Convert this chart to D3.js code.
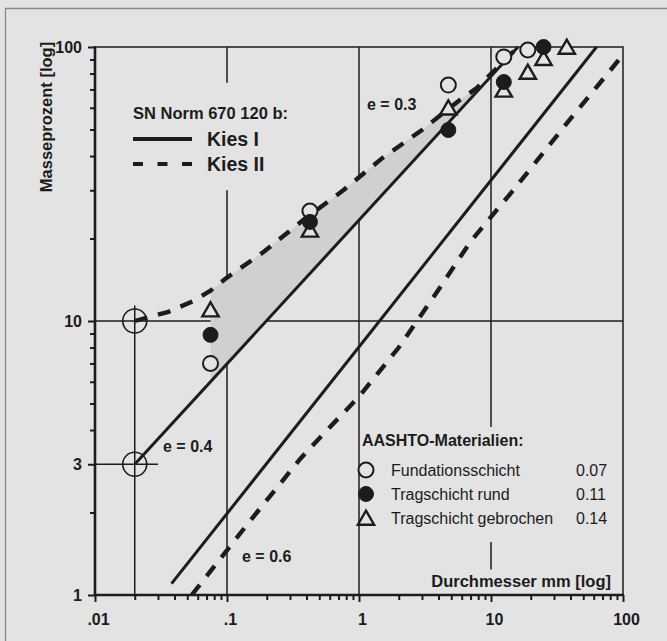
<!DOCTYPE html>
<html>
<head>
<meta charset="utf-8">
<script src="https://cdn.jsdelivr.net/npm/d3@7"></script>
<style>
  body { margin: 0; background: #e3e3e3; }
  svg { display: block; font-family: "Liberation Sans", Arial, sans-serif; }
</style>
</head>
<body>
<svg id="chart" width="667" height="641"></svg>
<script>
// Axis ticks
const xMajor = [0.01, 0.1, 1, 10, 100];
const xMajorLabels = [".01", ".1", "1", "10", "100"];
const xMinor = [0.02,0.03,0.04,0.05,0.06,0.07,0.08,0.09, 0.2,0.3,0.4,0.5,0.6,0.7,0.8,0.9,
                2,3,4,5,6,7,8,9, 20,30,40,50,60,70,80,90];
const yMajor = [1, 3, 10, 100];
const yMinor = [2,4,5,6,7,8,9, 20,30,40,50,60,70,80,90];

// SN Norm 670 120 b grading limits (d in mm, p in %)
const kiesIUpperD = [0.02, 16];
const kiesIUpperP = [3, 100];
const kiesILowerD = [0.038, 63];
const kiesILowerP = [1.1, 100];
const kiesIIUpperD = [0.02, 0.036, 0.055, 0.075, 0.10, 0.19, 0.38, 0.76, 1.5, 3.0, 5.8, 7.8, 16];
const kiesIIUpperP = [10, 10.8, 11.8, 12.9, 14.4, 17.9, 23.4, 30, 39.3, 49.8, 64.1, 70.8, 100];
const kiesIILowerD = [0.054, 0.068, 0.149, 0.357, 0.464, 1.0, 2.0, 4.0, 7.0, 14.4, 41.1, 93];
const kiesIILowerP = [1, 1.15, 1.86, 3.13, 3.59, 5.3, 8.0, 13.0, 19.5, 29.6, 55.6, 89.7];

// AASHTO materials
const sieves = [0.075, 0.425, 4.75, 12.5, 19, 25, 37.5];
const fundation = [7, 25.2, 72.6, 92, 97.5, null, null];
const tragRund = [8.9, 23, 49.8, 74.5, null, 100, null];
const tragGebrochen = [11, 21.5, 60, 69.7, 81, 91, 100];
const materialNames = ["Fundationsschicht", "Tragschicht rund", "Tragschicht gebrochen"];
const materialValues = ["0.07", "0.11", "0.14"];

const ink = "#1c1c1c", bg = "#e3e3e3";
const svg = d3.select("#chart");

const x = d3.scaleLog().domain([0.01, 100]).range([95, 623]);
const y = d3.scaleLog().domain([1, 100]).range([595, 47]);

// outer frame
svg.append("path").attr("d", "M5.5,641 V8.5 H667")
  .attr("fill", "none").attr("stroke", "#8a8a8a").attr("stroke-width", 1.3);

// grid segments (gaps left for labels)
const grid = [
  {x1: 0.02, x2: 0.02, y1: 1, y2: 11.4},
  {x1: 0.01, x2: 0.03, y1: 3, y2: 3},
  {x1: 0.01, x2: 100, y1: 10, y2: 10},
  {x1: 0.1, x2: 0.1, y1: 1, y2: 30},
  {x1: 0.1, x2: 0.1, y1: 74, y2: 100},
  {x1: 1, x2: 1, y1: 1, y2: 100},
  {x1: 10, x2: 10, y1: 1.24, y2: 1.56},
  {x1: 10, x2: 10, y1: 4.1, y2: 100}
];
svg.append("g").selectAll("line").data(grid).join("line")
  .attr("x1", d => x(d.x1)).attr("x2", d => x(d.x2))
  .attr("y1", d => y(d.y1)).attr("y2", d => y(d.y2))
  .attr("stroke", ink).attr("stroke-width", 1.5);

// shaded band between Kies II upper and Kies I upper
const upperII = kiesIIUpperD.map((d, i) => [d, kiesIIUpperP[i]]);
const kiesIAt = d => Math.exp(Math.log(kiesIUpperP[0]) +
  (Math.log(d) - Math.log(kiesIUpperD[0])) * (Math.log(kiesIUpperP[1] / kiesIUpperP[0]) / Math.log(kiesIUpperD[1] / kiesIUpperD[0])));
const band = upperII.filter(p => p[0] >= 0.075 && p[0] <= 7.8);
svg.append("path").datum(band)
  .attr("d", d3.area().x(d => x(d[0])).y0(d => y(kiesIAt(d[0]))).y1(d => y(d[1])))
  .attr("fill", "#d0d0d0");

// frame top/right
svg.append("path").attr("d", `M${x(0.01)},${y(100)} H${x(100)} V${y(1)}`)
  .attr("fill", "none").attr("stroke", ink).attr("stroke-width", 1.5);

// axes
const yAxisMinor = d3.axisLeft(y).tickValues(yMinor).tickSize(5).tickFormat("");
const yAxisMajor = d3.axisLeft(y).tickValues(yMajor).tickSize(7).tickPadding(6).tickFormat(d => d);
const xAxisMinor = d3.axisBottom(x).tickValues(xMinor).tickSize(5).tickFormat("");
const xAxisMajor = d3.axisBottom(x).tickValues(xMajor).tickSize(7).tickPadding(12)
  .tickFormat((d, i) => xMajorLabels[i]);

[yAxisMinor, yAxisMajor].forEach(a => {
  const g = svg.append("g").attr("transform", `translate(${x(0.01)},0)`).call(a);
  g.select(".domain").remove();
  g.selectAll(".tick line").attr("stroke", ink).attr("stroke-width", 2);
  g.selectAll("text").attr("fill", ink).style("font-size", "16px").style("font-weight", "bold");
});
[xAxisMinor, xAxisMajor].forEach(a => {
  const g = svg.append("g").attr("transform", `translate(0,${y(1)})`).call(a);
  g.select(".domain").remove();
  g.selectAll(".tick line").attr("stroke", ink).attr("stroke-width", 2);
  g.selectAll("text").attr("fill", ink).attr("dx", 3).style("font-size", "16px").style("font-weight", "bold");
});
svg.append("path").attr("d", `M${x(0.01)},${y(100) - 1} V${y(1)} H${x(100) + 1}`)
  .attr("fill", "none").attr("stroke", ink).attr("stroke-width", 2.6);

// axis titles
svg.append("text").attr("transform", "translate(52,117) rotate(-90)")
  .attr("text-anchor", "middle").attr("fill", ink)
  .style("font-size", "16.5px").style("font-weight", "bold").text("Masseprozent [log]");
svg.append("text").attr("x", 611).attr("y", 587).attr("text-anchor", "end").attr("fill", ink)
  .style("font-size", "16.5px").style("font-weight", "bold").text("Durchmesser mm [log]");

// grading lines
const line = d3.line().x(d => x(d[0])).y(d => y(d[1]));
const pairs = (ds, ps) => ds.map((d, i) => [d, ps[i]]);
const curves = [
  {pts: pairs(kiesIUpperD, kiesIUpperP), dash: null, w: 3},
  {pts: pairs(kiesILowerD, kiesILowerP), dash: null, w: 3},
  {pts: pairs(kiesIIUpperD, kiesIIUpperP), dash: "13,11", w: 4.4},
  {pts: pairs(kiesIILowerD, kiesIILowerP), dash: "13,11", w: 4.4}
];
svg.append("g").selectAll("path").data(curves).join("path")
  .attr("d", d => line(d.pts)).attr("fill", "none")
  .attr("stroke", ink).attr("stroke-width", d => d.w)
  .attr("stroke-dasharray", d => d.dash);

// anchor circles
svg.append("g").selectAll("circle").data([10, 3]).join("circle")
  .attr("cx", x(0.02)).attr("cy", d => y(d)).attr("r", 12)
  .attr("fill", "none").attr("stroke", ink).attr("stroke-width", 1.6);

// e labels
const eLabels = [
  {t: "e = 0.3", px: 367, py: 110},
  {t: "e = 0.4", px: 163, py: 452},
  {t: "e = 0.6", px: 242, py: 562}
];
svg.append("g").selectAll("text").data(eLabels).join("text")
  .attr("x", d => d.px).attr("y", d => d.py).attr("fill", ink)
  .style("font-size", "16px").style("font-weight", "bold").text(d => d.t);

// markers
const tri = d3.symbol().type(d3.symbolTriangle).size(115);
function marker(g, kind) {
  if (kind === 0) g.append("circle").attr("r", 7.5).attr("fill", bg).attr("stroke", ink).attr("stroke-width", 2);
  else if (kind === 1) g.append("circle").attr("r", 7.5).attr("fill", ink).attr("stroke", ink).attr("stroke-width", 1);
  else g.append("path").attr("d", tri).attr("transform", "translate(0,2)")
    .attr("fill", bg).attr("stroke", ink).attr("stroke-width", 2.4);
}
const series = [fundation, tragRund, tragGebrochen];
[2, 0, 1].forEach(k => {
  sieves.forEach((d, i) => {
    const v = series[k][i];
    if (v == null) return;
    const g = svg.append("g").attr("transform", `translate(${x(d)},${y(v)})`);
    marker(g, k);
  });
});

// legend: SN Norm
svg.append("text").attr("x", 133).attr("y", 119).attr("fill", ink)
  .style("font-size", "16.5px").style("font-weight", "bold").text("SN Norm 670 120 b:");
svg.append("line").attr("x1", 133).attr("x2", 192).attr("y1", 139).attr("y2", 139)
  .attr("stroke", ink).attr("stroke-width", 4);
svg.append("line").attr("x1", 133).attr("x2", 192).attr("y1", 164).attr("y2", 164)
  .attr("stroke", ink).attr("stroke-width", 4).attr("stroke-dasharray", "10,14.5");
svg.append("text").attr("x", 207).attr("y", 146).attr("fill", ink)
  .style("font-size", "19.5px").style("font-weight", "bold").text("Kies I");
svg.append("text").attr("x", 207).attr("y", 171).attr("fill", ink)
  .style("font-size", "19.5px").style("font-weight", "bold").text("Kies II");

// legend: AASHTO
svg.append("text").attr("x", 362).attr("y", 446).attr("fill", ink)
  .style("font-size", "16px").style("font-weight", "bold").text("AASHTO-Materialien:");
materialNames.forEach((name, i) => {
  const yy = 470 + i * 24;
  const g = svg.append("g").attr("transform", `translate(366,${yy})`);
  marker(g, i);
  svg.append("text").attr("x", 391).attr("y", yy + 6).attr("fill", ink)
    .style("font-size", "16px").text(name);
  svg.append("text").attr("x", 576).attr("y", yy + 6).attr("fill", ink)
    .style("font-size", "16px").text(materialValues[i]);
});
</script>
</body>
</html>
